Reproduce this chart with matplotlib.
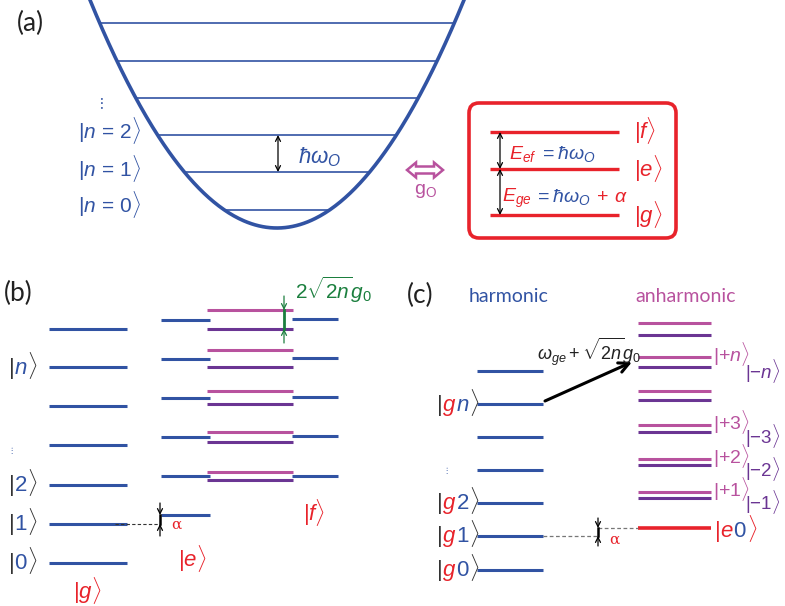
import numpy as np
import matplotlib
matplotlib.use("Agg")
import matplotlib.pyplot as plt
from matplotlib.patches import FancyBboxPatch, Polygon

plt.rcParams["font.family"] = ["Liberation Sans", "DejaVu Sans"]
plt.rcParams["mathtext.fontset"] = "custom"
plt.rcParams["mathtext.rm"] = "Liberation Sans"
plt.rcParams["mathtext.it"] = "Liberation Sans:italic"
plt.rcParams["mathtext.sf"] = "Liberation Sans"
plt.rcParams["mathtext.bf"] = "Liberation Sans:bold"

BLUE = "#3153a3"
RED = "#e8232b"
PINK = "#b8529e"
PURPLE = "#6b3593"
GREEN = "#1b7f3e"

# ---- data (diagram units = pixels of the original figure) ----
# (a) harmonic oscillator well and its levels
well_bottom = 228
well_centre = 277
well_k = 0.00652
osc_levels = [210, 172, 135, 98, 61, 23]
qubit_levels = [215, 169, 132]          # g, e, f
qubit_names = ["g", "e", "f"]

# (b) ladders
b_g_levels = [563, 524, 485, 445, 406, 367, 329]
b_e_levels = [515, 476, 437, 398, 359, 320]
b_plus = [472, 432, 391, 350, 310]
b_minus = [480, 442, 404, 367, 329]
b_f_levels = [476, 436, 397, 358, 319]

# (c) harmonic vs anharmonic
c_harm = [570, 536, 503, 470, 437, 404, 371]
c_plus = [492, 459, 425, 391, 357, 323]
c_minus = [498, 465, 432, 400, 367, 335]
c_e0 = 528
c_plus_labels = ["1", "2", "3", "n"]
c_minus_labels = ["1", "2", "3", "n"]

fig = plt.figure(figsize=(7.85, 6.06), dpi=100)
ax = fig.add_axes([0, 0, 1, 1])
ax.set_xlim(0, 785)
ax.set_ylim(606, 0)
ax.axis("off")
renderer = fig.canvas.get_renderer()

PANEL_FONT = ["Lato", "DejaVu Sans"]


def pieces(x, yc, parts, size=15):
    # draw coloured pieces side by side on one baseline
    yb = yc + 0.3 * size * 100 / 72
    for s, c in parts:
        t = ax.text(x, yb, s, color=c, fontsize=size, ha="left", va="baseline")
        x += t.get_window_extent(renderer).width
    return x


def ket(x, yc, inner, bc, size=15):
    return pieces(x, yc, [(r"$|$", bc)] + inner + [(r"$\rangle$", bc)], size)


def hlines(ys, x0, x1, color, lw=2.2):
    for y in ys:
        ax.plot([x0, x1], [y, y], color=color, lw=lw, solid_capstyle="butt")


def dbl_arrow(x, y0, y1, color="black", lw=0.9):
    ax.annotate("", xy=(x, y1), xytext=(x, y0),
                arrowprops=dict(arrowstyle="<->", color=color, lw=lw,
                                shrinkA=0, shrinkB=0, mutation_scale=9))


def squeeze_arrow(x, y_top, y_bot, ext, color="black", lw=1.8):
    ax.plot([x, x], [y_top, y_bot], color=color, lw=lw)
    ax.annotate("", xy=(x, y_top), xytext=(x, y_top - ext),
                arrowprops=dict(arrowstyle="->", color=color, lw=0.9,
                                shrinkA=0, shrinkB=0, mutation_scale=9))
    ax.annotate("", xy=(x, y_bot), xytext=(x, y_bot + ext),
                arrowprops=dict(arrowstyle="->", color=color, lw=0.9,
                                shrinkA=0, shrinkB=0, mutation_scale=9))


# ================= (a) =================
ax.text(17, 23, "(a)", fontsize=19, color="#222222", va="center", family=PANEL_FONT)
xs = np.linspace(90, 464, 300)
ax.plot(xs, well_bottom - well_k * (xs - well_centre) ** 2, color=BLUE, lw=2.6)
for y in osc_levels:
    dx = np.sqrt((well_bottom - y) / well_k)
    ax.plot([well_centre - dx, well_centre + dx], [y, y], color=BLUE, lw=1.2)

ax.text(100, 104, r"$\vdots$", color=BLUE, fontsize=11, ha="center", va="center")
for i, y in enumerate([205, 168, 130]):
    ax.text(78, y, r"$|n\,=\,%d\rangle$" % i, color=BLUE, fontsize=15,
            ha="left", va="center")

dbl_arrow(278, osc_levels[2], osc_levels[1])
ax.text(298, 157, r"$\hbar\omega_O$", color=BLUE, fontsize=16, va="center")

# coupling arrow
cx, cy = 425, 170
arr = [(-18, 0), (-9, -7.5), (-9, -3.5), (9, -3.5), (9, -7.5), (18, 0),
       (9, 7.5), (9, 3.5), (-9, 3.5), (-9, 7.5)]
ax.add_patch(Polygon([(cx + a, cy + b) for a, b in arr], closed=True,
                     fc="white", ec=PINK, lw=1.8))
ax.text(425, 191, r"$\mathrm{g_O}$", color=PINK, fontsize=14, ha="center", va="center")

# qubit box
ax.add_patch(FancyBboxPatch((469, 103), 207, 135,
                            boxstyle="round,pad=0,rounding_size=10",
                            fc="none", ec=RED, lw=2.6))
hlines(qubit_levels, 490, 619, RED, lw=2.4)
for y, nm in zip(qubit_levels, qubit_names):
    ax.text(634, y - 1, r"$|%s\rangle$" % nm, color=RED, fontsize=16, va="center")
dbl_arrow(500, qubit_levels[2], qubit_levels[1])
dbl_arrow(500, qubit_levels[1], qubit_levels[0])
pieces(509, 153, [(r"$E_{ef}$", RED), (r"$\,=\hbar\omega_O$", BLUE)], size=14)
pieces(502, 196, [(r"$E_{ge}$", RED), (r"$\,=\hbar\omega_O$", BLUE),
                  (r"$\,+\,\alpha$", RED)], size=14)

# ================= (b) =================
ax.text(4, 293, "(b)", fontsize=19, color="#222222", va="center", family=PANEL_FONT)
hlines(b_g_levels, 49, 127, BLUE)
hlines(b_e_levels, 161, 210, BLUE)
hlines(b_plus, 207, 293, PINK)
hlines(b_minus, 207, 293, PURPLE)
hlines(b_f_levels, 292, 338, BLUE)

ket(8, b_g_levels[5], [(r"$n$", BLUE)], "#333333", size=16)
ax.text(11, 450, r"$\vdots$", color=BLUE, fontsize=6, ha="center", va="center")
for i, y in enumerate(b_g_levels[:3]):
    ket(8, y - 1, [(r"$%d$" % i, BLUE)], "#333333", size=16)
ax.text(73, 590, r"$|g\rangle$", color=RED, fontsize=16, va="center")
ax.text(178, 559, r"$|e\rangle$", color=RED, fontsize=16, va="center")
ax.text(303, 512, r"$|f\rangle$", color=RED, fontsize=16, va="center")

ax.plot([115, 160], [b_g_levels[1]] * 2, color="#333333", lw=0.8, ls=(0, (3, 2)))
squeeze_arrow(160, b_e_levels[0], b_g_levels[1], 12)
ax.text(171, 525, "α", color=RED, fontsize=11, va="center", family=["DejaVu Serif"])

squeeze_arrow(284, b_plus[-1], b_minus[-1], 14, color=GREEN, lw=2.0)
ax.text(295, 290, r"$2\sqrt{2n}g_0$", color=GREEN, fontsize=15, va="center")

# ================= (c) =================
ax.text(407, 295, "(c)", fontsize=19, color="#222222", va="center", family=PANEL_FONT)
ax.text(469, 296, "harmonic", fontsize=14, color=BLUE, va="center", family=PANEL_FONT)
ax.text(635, 296, "anharmonic", fontsize=14, color=PINK, va="center", family=PANEL_FONT)

hlines(c_harm, 477, 543, BLUE)
hlines(c_plus, 638, 711, PINK)
hlines(c_minus, 638, 711, PURPLE)
hlines([c_e0], 638, 711, RED, lw=2.6)

ket(436, c_harm[5], [(r"$g$", RED), (r"$n$", BLUE)], "#333333", size=16)
ax.text(446, 471, r"$\vdots$", color=BLUE, fontsize=6, ha="center", va="center")
for i, y in enumerate(c_harm[:3]):
    ket(436, y - 1, [(r"$g$", RED), (r"$%d$" % i, BLUE)], "#333333", size=16)
ket(714, c_e0 + 2, [(r"$e$", RED), (r"$0$", BLUE)], RED, size=16)

plus_mid = [c_plus[0], c_plus[1], c_plus[2], c_plus[4]]
minus_mid = [c_minus[0], c_minus[1], c_minus[2], c_minus[4]]
for yp, ym, lp, lm in zip(plus_mid, minus_mid, c_plus_labels, c_minus_labels):
    ax.text(713, yp - 3, r"$|{+}%s\rangle$" % lp, color=PINK, fontsize=14, va="center")
    ax.text(745, ym + 4, r"$|{-}%s\rangle$" % lm, color=PURPLE, fontsize=13.5,
            va="center")

ax.plot([543, 598], [c_harm[1]] * 2, color="#777777", lw=0.9, ls=(0, (3, 2)))
ax.plot([598, 638], [c_e0] * 2, color="#777777", lw=0.9, ls=(0, (3, 2)))
squeeze_arrow(598, c_e0, c_harm[1], 10)
ax.text(609, 540, "α", color=RED, fontsize=11, va="center", family=["DejaVu Serif"])

ax.annotate("", xy=(632, 362), xytext=(545, 401),
            arrowprops=dict(arrowstyle="->", color="black", lw=2.2,
                            shrinkA=0, shrinkB=0, mutation_scale=18))
ax.text(537, 352, r"$\omega_{ge}+\sqrt{2n}g_0$", color="#222222", fontsize=13,
        va="center")

fig.savefig("out.png", dpi=100)
